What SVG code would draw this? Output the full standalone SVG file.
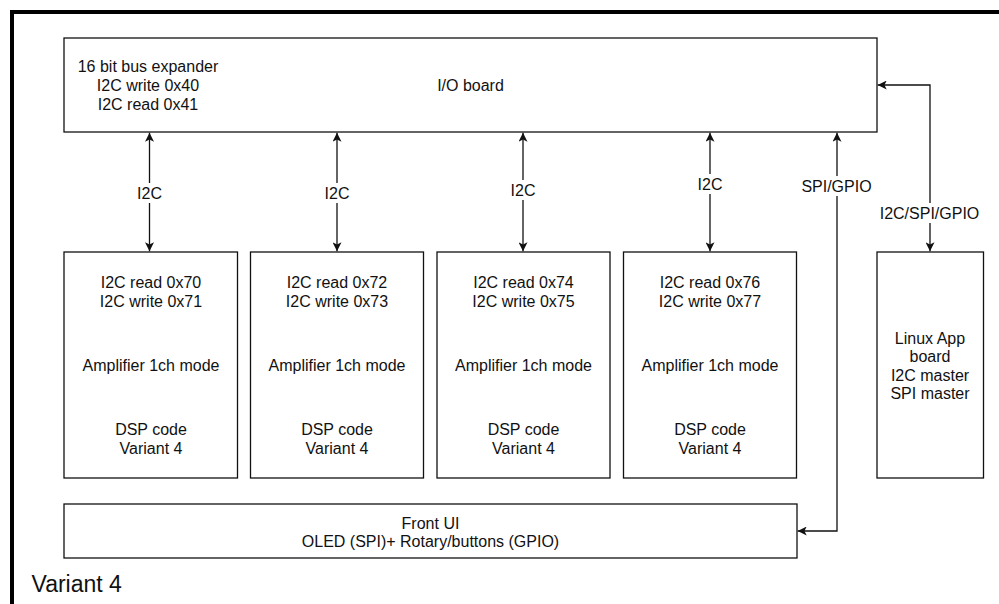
<svg xmlns="http://www.w3.org/2000/svg" width="999" height="604" viewBox="0 0 999 604">
<style>
.box{fill:#fff;stroke:#111;stroke-width:1.3}
.t{font-family:"Liberation Sans",Arial,Helvetica,sans-serif;font-size:16px;fill:#111;text-anchor:middle}
.c{fill:none;stroke:#111;stroke-width:1.3}
.lb{fill:#fff;stroke:none}
</style>
<defs>
<marker id="arr" viewBox="0 0 10 10" refX="10" refY="5" markerWidth="10" markerHeight="9" markerUnits="userSpaceOnUse" orient="auto-start-reverse">
<path d="M0,0 L10,5 L0,10 L2.5,5 z" fill="#111"/>
</marker>
</defs>
<rect x="0" y="0" width="999" height="604" fill="#fff"/>
<rect x="12" y="12" width="1100" height="700" fill="none" stroke="#000" stroke-width="4"/>

<g id="io-board">
<rect class="box" x="64" y="38" width="813" height="94"/>
<text class="t"><tspan x="148" y="72">16 bit bus expander</tspan><tspan x="148" y="91">I2C write 0x40</tspan><tspan x="148" y="110">I2C read 0x41</tspan></text>
<text class="t" x="470.5" y="91">I/O board</text>
</g>

<g id="amp1">
<rect class="box" x="64" y="252" width="173.5" height="226"/>
<text class="t"><tspan x="151" y="288">I2C read 0x70</tspan><tspan x="151" y="306.5">I2C write 0x71</tspan><tspan x="151" y="370.5">Amplifier 1ch mode</tspan><tspan x="151" y="435">DSP code</tspan><tspan x="151" y="453.5">Variant 4</tspan></text>
</g>
<g id="amp2">
<rect class="box" x="250.5" y="252" width="173" height="226"/>
<text class="t"><tspan x="337" y="288">I2C read 0x72</tspan><tspan x="337" y="306.5">I2C write 0x73</tspan><tspan x="337" y="370.5">Amplifier 1ch mode</tspan><tspan x="337" y="435">DSP code</tspan><tspan x="337" y="453.5">Variant 4</tspan></text>
</g>
<g id="amp3">
<rect class="box" x="437" y="252" width="173" height="226"/>
<text class="t"><tspan x="523.5" y="288">I2C read 0x74</tspan><tspan x="523.5" y="306.5">I2C write 0x75</tspan><tspan x="523.5" y="370.5">Amplifier 1ch mode</tspan><tspan x="523.5" y="435">DSP code</tspan><tspan x="523.5" y="453.5">Variant 4</tspan></text>
</g>
<g id="amp4">
<rect class="box" x="623.5" y="252" width="173" height="226"/>
<text class="t"><tspan x="710" y="288">I2C read 0x76</tspan><tspan x="710" y="306.5">I2C write 0x77</tspan><tspan x="710" y="370.5">Amplifier 1ch mode</tspan><tspan x="710" y="435">DSP code</tspan><tspan x="710" y="453.5">Variant 4</tspan></text>
</g>
<g id="linux">
<rect class="box" x="877" y="252" width="106.5" height="226"/>
<text class="t"><tspan x="930" y="343.5">Linux App</tspan><tspan x="930" y="362">board</tspan><tspan x="930" y="380.5">I2C master</tspan><tspan x="930" y="399">SPI master</tspan></text>
</g>
<g id="front-ui">
<rect class="box" x="64" y="504" width="733" height="54"/>
<text class="t"><tspan x="430.5" y="528.5">Front UI</tspan><tspan x="430.5" y="547">OLED (SPI)+ Rotary/buttons (GPIO)</tspan></text>
</g>

<g id="connectors">
<path class="c" d="M149.5,132.7 V251.3" marker-start="url(#arr)" marker-end="url(#arr)"/>
<path class="c" d="M337,132.7 V251.3" marker-start="url(#arr)" marker-end="url(#arr)"/>
<path class="c" d="M523,132.7 V251.3" marker-start="url(#arr)" marker-end="url(#arr)"/>
<path class="c" d="M710,132.7 V251.3" marker-start="url(#arr)" marker-end="url(#arr)"/>
<path class="c" d="M837,132.7 V531 H797.7" marker-start="url(#arr)" marker-end="url(#arr)"/>
<path class="c" d="M930,251.3 V85 H877.7" marker-start="url(#arr)" marker-end="url(#arr)"/>
<rect class="lb" x="136" y="183" width="27" height="20"/>
<text class="t" x="149.5" y="199">I2C</text>
<rect class="lb" x="323.5" y="183" width="27" height="20"/>
<text class="t" x="337" y="199">I2C</text>
<rect class="lb" x="509.5" y="180" width="27" height="20"/>
<text class="t" x="523" y="195.5">I2C</text>
<rect class="lb" x="696.5" y="174" width="27" height="20"/>
<text class="t" x="710" y="189.5">I2C</text>
<rect class="lb" x="799" y="176" width="76" height="20"/>
<text class="t" x="836.5" y="192">SPI/GPIO</text>
<rect class="lb" x="877" y="203" width="106" height="20"/>
<text class="t" x="929.5" y="218.5">I2C/SPI/GPIO</text>
</g>

<text x="31.5" y="592" style="font-family:'Liberation Sans',Arial,Helvetica,sans-serif;font-size:23px;fill:#111">Variant 4</text>
</svg>
